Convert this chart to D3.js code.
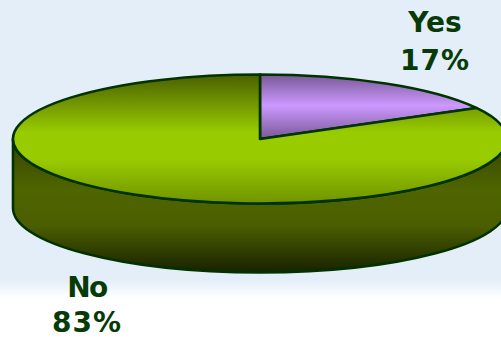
<!DOCTYPE html>
<html><head><meta charset="utf-8">
<script src="https://cdn.jsdelivr.net/npm/d3@7"></script>
<style>html,body{margin:0;padding:0;overflow:hidden;background:#fff}</style>
</head><body>
<script>
const categories = ["Yes", "No"];
const values = [17, 83];
const labels = ["17%", "83%"];

const W = 501, H = 339;
const cx = 260, cy = 139, rx = 247, ry = 64.5, depth = 69;

const svg = d3.select("body").append("svg").attr("width", W).attr("height", H);
const defs = svg.append("defs");

const bg = defs.append("linearGradient").attr("id","bg").attr("gradientUnits","userSpaceOnUse")
  .attr("x1",0).attr("y1",0).attr("x2",0).attr("y2",H);
[[0,"#e4eef8"],[280/H,"#e4eef8"],[298/H,"#ffffff"],[1,"#ffffff"]].forEach(s=>bg.append("stop").attr("offset",s[0]).attr("stop-color",s[1]));
svg.append("rect").attr("width",W).attr("height",H).attr("fill","url(#bg)");

const gTop = defs.append("linearGradient").attr("id","gTop").attr("gradientUnits","userSpaceOnUse")
  .attr("x1",0).attr("y1",cy-ry).attr("x2",0).attr("y2",cy+ry);
[[0,"#4a6000"],[0.45,"#99cc00"],[0.65,"#99cc00"],[1,"#709400"]].forEach(s=>gTop.append("stop").attr("offset",s[0]).attr("stop-color",s[1]));

const pTop = defs.append("linearGradient").attr("id","pTop").attr("x1",0).attr("y1",0).attr("x2",0).attr("y2",1);
[[0,"#785896"],[0.48,"#cc99ff"],[1,"#785896"]].forEach(s=>pTop.append("stop").attr("offset",s[0]).attr("stop-color",s[1]));

const gSide = defs.append("linearGradient").attr("id","gSide").attr("gradientUnits","userSpaceOnUse")
  .attr("x1",0).attr("y1",cy).attr("x2",0).attr("y2",cy+ry+depth);
[[0,"#364400"],[0.38,"#4f6500"],[0.65,"#4b5e00"],[1,"#182200"]].forEach(s=>gSide.append("stop").attr("offset",s[0]).attr("stop-color",s[1]));

const topFill = ["url(#pTop)", "url(#gTop)"];
const sideFill = ["url(#gSide)", "url(#gSide)"];

const pie = d3.pie().sort(null).value(d => d)(values);
const pt = (a, dy=0) => [cx + rx*Math.sin(a), cy - ry*Math.cos(a) + dy];

pie.forEach((d,i) => {
  const s = Math.max(d.startAngle, Math.PI/2), e = Math.min(d.endAngle, 3*Math.PI/2);
  if (e <= s) return;
  const p0 = pt(s), p1 = pt(e), q1 = pt(e, depth), q0 = pt(s, depth);
  const path = `M${p0}A${rx},${ry} 0 0 1 ${p1}L${q1}A${rx},${ry} 0 0 0 ${q0}Z`;
  svg.append("path").attr("d", path).attr("fill", sideFill[i])
    .attr("stroke","#003300").attr("stroke-width",2.6).attr("stroke-linejoin","round");
});

pie.forEach((d,i) => {
  const p0 = pt(d.startAngle), p1 = pt(d.endAngle);
  const large = (d.endAngle - d.startAngle) > Math.PI ? 1 : 0;
  const path = `M${cx},${cy}L${p0}A${rx},${ry} 0 ${large} 1 ${p1}Z`;
  svg.append("path").attr("d", path).attr("fill", topFill[i])
    .attr("stroke","#003300").attr("stroke-width",2.6).attr("stroke-linejoin","round");
});

const labelPos = [[435, 32, 70, 0], [87, 297, 332, -1.5]];
categories.forEach((c,i) => {
  const [x, y1, y2, ls] = labelPos[i];
  const t = svg.append("text").attr("text-anchor","middle").attr("fill","#063a06")
    .attr("font-family","DejaVu Sans, Verdana, sans-serif").attr("font-weight","bold").attr("font-size",28);
  t.append("tspan").attr("x",x).attr("y",y1).attr("letter-spacing",ls).text(c);
  t.append("tspan").attr("x",x).attr("y",y2).attr("letter-spacing",1).text(labels[i]);
});
</script>
</body></html>
